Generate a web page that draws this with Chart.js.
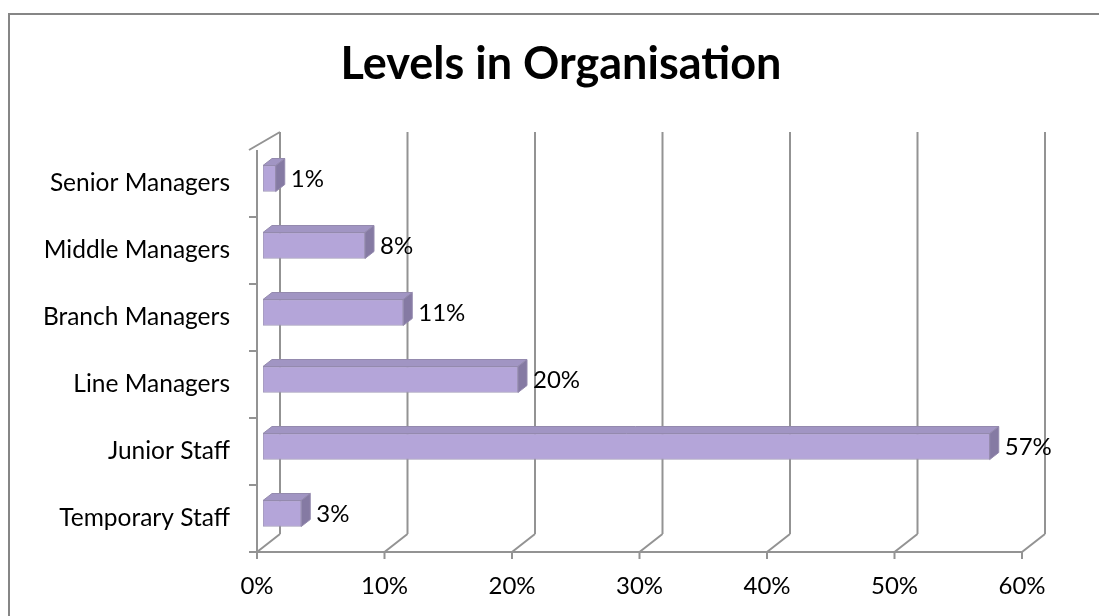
<!DOCTYPE html>
<html>
<head>
<meta charset="utf-8">
<title>Levels in Organisation</title>
<script src="https://cdn.jsdelivr.net/npm/chart.js@4/dist/chart.umd.min.js"></script>
<style>
  html, body { margin: 0; padding: 0; background: #fff; }
  #wrap { position: relative; width: 1099px; height: 616px; }
</style>
</head>
<body>
<div id="wrap"><canvas id="chart" width="1099" height="616"></canvas></div>
<script>
// staff levels, top to bottom as listed on the axis
const levels = [
  "Senior Managers",
  "Middle Managers",
  "Branch Managers",
  "Line Managers",
  "Junior Staff",
  "Temporary Staff",
];
const shares = [1, 8, 11, 20, 57, 3];
const percentTicks = [0, 10, 20, 30, 40, 50, 60];
const chartTitle = "Levels in Organisation";

const FONT = "Lato, 'Noto Sans', sans-serif";

// offsets of the front plane, the back wall and the bar depth from the bar plane
const FRONT = { dx: -6, dy: 5 };
const BACK = { dx: 17, dy: -13 };
const DEPTH = { dx: 9, dy: -7 };

const box3d = {
  id: "box3d",
  beforeDraw(chart) {
    const ctx = chart.ctx;
    ctx.save();
    ctx.fillStyle = "#fff";
    ctx.fillRect(0, 0, chart.width, chart.height);
    // outer frame
    ctx.fillStyle = "#868686";
    ctx.fillRect(8, 13, 2, chart.height - 13);
    ctx.fillRect(8, 13, chart.width - 8, 2);
    ctx.restore();
  },
  beforeDatasetsDraw(chart) {
    const { ctx, chartArea, scales } = chart;
    const x = scales.x;
    const top = chartArea.top;
    const bottom = chartArea.bottom;
    ctx.save();
    ctx.strokeStyle = "#939393";
    ctx.lineWidth = 2;
    ctx.beginPath();
    percentTicks.forEach((v) => {
      const px = x.getPixelForValue(v);
      // back wall gridline
      ctx.moveTo(px + BACK.dx, top + BACK.dy);
      ctx.lineTo(px + BACK.dx, bottom + BACK.dy);
      // floor slant
      ctx.moveTo(px + FRONT.dx, bottom + FRONT.dy);
      ctx.lineTo(px + BACK.dx, bottom + BACK.dy);
      // tick below the floor
      ctx.moveTo(px + FRONT.dx, bottom + FRONT.dy);
      ctx.lineTo(px + FRONT.dx, bottom + FRONT.dy + 7);
    });
    const x0 = x.getPixelForValue(0);
    const x60 = x.getPixelForValue(60);
    // front floor edge
    ctx.moveTo(x0 + FRONT.dx - 8, bottom + FRONT.dy);
    ctx.lineTo(x60 + FRONT.dx, bottom + FRONT.dy);
    // left wall: front edge and top slant
    ctx.moveTo(x0 + FRONT.dx, top + FRONT.dy);
    ctx.lineTo(x0 + FRONT.dx, bottom + FRONT.dy);
    ctx.moveTo(x0 + FRONT.dx - 8, top + FRONT.dy);
    ctx.lineTo(x0 + BACK.dx, top + BACK.dy);
    // category ticks on the front edge
    const step = (bottom - top) / levels.length;
    for (let i = 1; i < levels.length; i++) {
      const py = top + FRONT.dy + step * i;
      ctx.moveTo(x0 + FRONT.dx - 8, py);
      ctx.lineTo(x0 + FRONT.dx, py);
    }
    ctx.stroke();
    ctx.restore();
  },
  afterDatasetsDraw(chart) {
    const ctx = chart.ctx;
    const meta = chart.getDatasetMeta(0);
    ctx.save();
    meta.data.forEach((bar, i) => {
      const half = bar.height / 2;
      const t = bar.y - half;
      const b = bar.y + half;
      const l = bar.base;
      const r = bar.x;
      // top face
      ctx.fillStyle = "#a195c3";
      ctx.strokeStyle = "#948aae";
      ctx.lineWidth = 1;
      ctx.beginPath();
      ctx.moveTo(l, t);
      ctx.lineTo(r, t);
      ctx.lineTo(r + DEPTH.dx, t + DEPTH.dy);
      ctx.lineTo(l + DEPTH.dx, t + DEPTH.dy);
      ctx.closePath();
      ctx.fill();
      ctx.stroke();
      // side face
      ctx.fillStyle = "#857aa3";
      ctx.beginPath();
      ctx.moveTo(r, t);
      ctx.lineTo(r + DEPTH.dx, t + DEPTH.dy);
      ctx.lineTo(r + DEPTH.dx, b + DEPTH.dy);
      ctx.lineTo(r, b);
      ctx.closePath();
      ctx.fill();
      ctx.stroke();
      // value label
      ctx.fillStyle = "#000";
      ctx.font = "24px " + FONT;
      ctx.textAlign = "left";
      ctx.textBaseline = "middle";
      ctx.fillText(shares[i] + "%", r + DEPTH.dx + 6, bar.y + 1);
    });
    ctx.restore();
  },
  afterDraw(chart) {
    // title sits centred over the whole plot block, walls included
    const ctx = chart.ctx;
    ctx.save();
    ctx.fillStyle = "#000";
    ctx.font = "bold 45px " + FONT;
    ctx.textAlign = "center";
    ctx.textBaseline = "middle";
    ctx.fillText(chartTitle, 561, 64);
    ctx.restore();
  },
};

const canvas = document.getElementById("chart");
const g = canvas.getContext("2d");

new Chart(canvas, {
  type: "bar",
  data: {
    labels: levels,
    datasets: [
      {
        data: shares,
        backgroundColor: (c) => {
          const bar = c.element;
          if (!bar || bar.y === undefined) return "#b4a5d9";
          const grad = g.createLinearGradient(0, bar.y - 13, 0, bar.y + 13);
          grad.addColorStop(0, "#a99acf");
          grad.addColorStop(0.55, "#b7a8dd");
          grad.addColorStop(1, "#bdafe3");
          return grad;
        },
        borderColor: "#a29ab9",
        borderWidth: 1,
        borderSkipped: false,
        barThickness: 26,
      },
    ],
  },
  options: {
    indexAxis: "y",
    responsive: false,
    animation: false,
    layout: { padding: { top: 145, left: 0, right: 71, bottom: 0 } },
    plugins: {
      legend: { display: false },
      tooltip: { enabled: false },
      title: { display: false },
    },
    scales: {
      x: {
        min: 0,
        max: 60,
        afterFit: (s) => { s.height = 69; },
        afterBuildTicks: (s) => { s.ticks = percentTicks.map((v) => ({ value: v })); },
        grid: { display: false, drawTicks: false },
        border: { display: false },
        ticks: {
          color: "#000",
          font: { family: FONT, size: 24 },
          padding: 25,
          labelOffset: -6,
          maxRotation: 0,
          callback: (v) => v + "%",
        },
      },
      y: {
        afterFit: (s) => { s.width = 263; },
        grid: { display: false, drawTicks: false },
        border: { display: false },
        ticks: {
          color: "#000",
          font: { family: FONT, size: 24.5 },
          padding: 33,
          labelOffset: 5,
        },
      },
    },
  },
  plugins: [box3d],
});
</script>
</body>
</html>
